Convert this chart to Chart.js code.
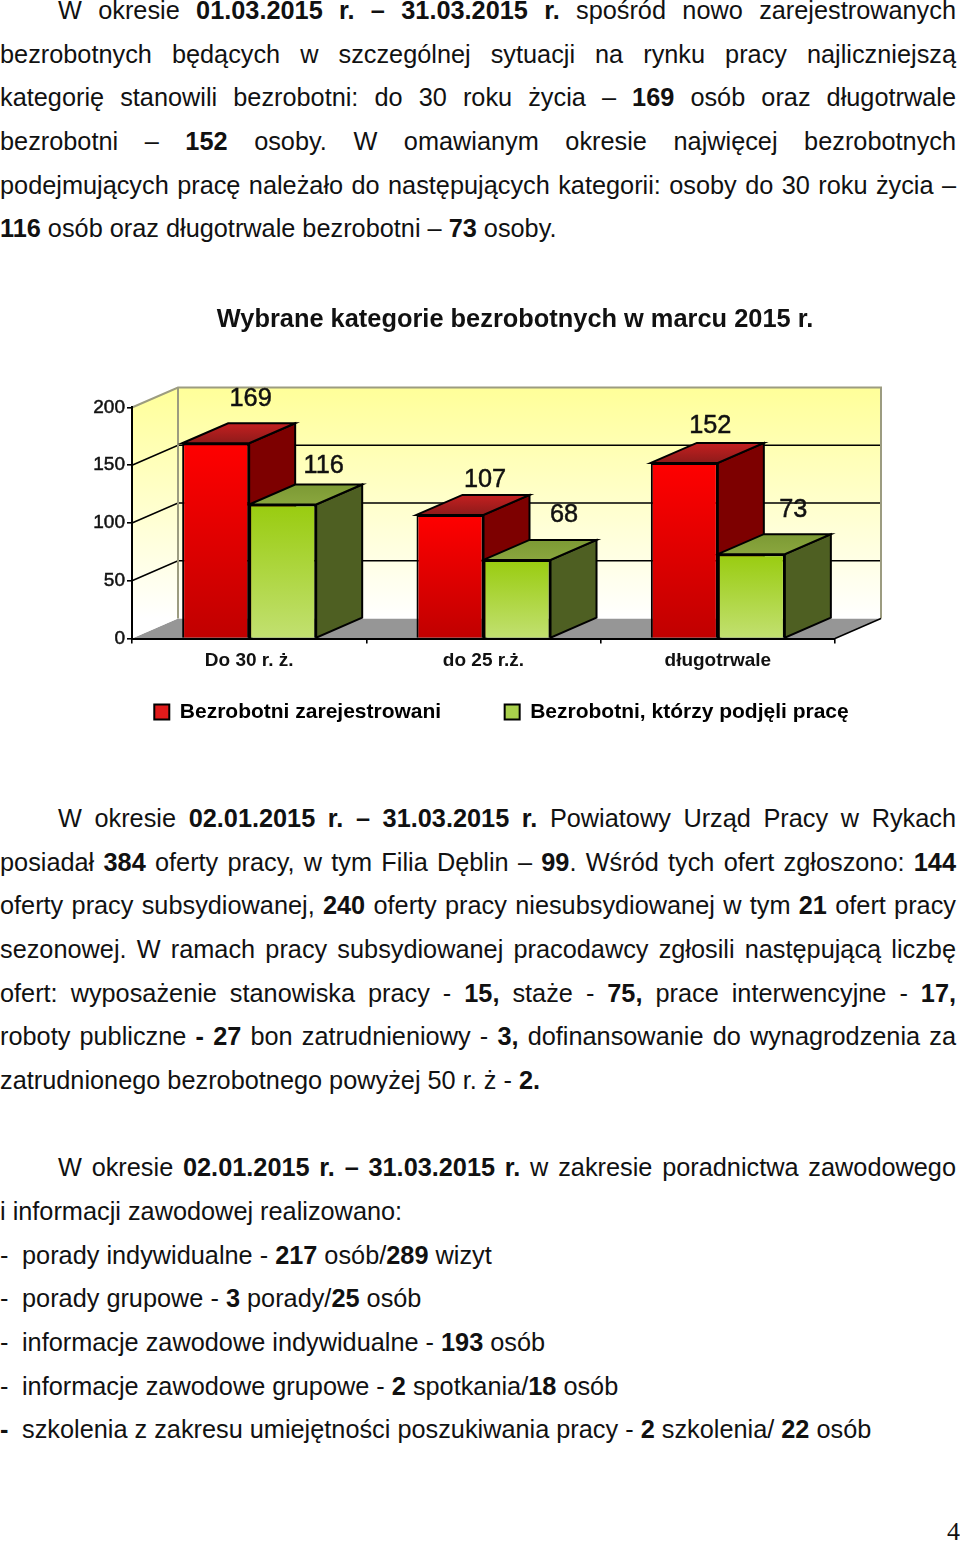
<!DOCTYPE html>
<html lang="pl">
<head>
<meta charset="utf-8">
<title>Wybrane kategorie bezrobotnych w marcu 2015 r.</title>
<script src="https://cdn.jsdelivr.net/npm/chart.js@4/dist/chart.umd.min.js"></script>
<style>
    html, body { margin: 0; padding: 0; background: #fff; }
    body { position: relative; width: 960px; height: 1543px; overflow: hidden; color: #111; font-family: "Liberation Sans", Arial, sans-serif; font-size: 25.3px; }
    .l { position: absolute; left: 0; width: 956px; height: 30px; line-height: 30px; white-space: nowrap; z-index: 2; }
    .i { left: 58px; width: 898px; }
    .j { white-space: normal; text-align: justify; text-align-last: justify; }
    .d { display: inline-block; width: 22px; }
    #wrap { position: absolute; left: 0; top: 290px; width: 960px; height: 479px; z-index: 1; }
    #pg { position: absolute; left: 947px; top: 1517px; font-family: "Liberation Serif", serif; font-size: 26px; line-height: 30px; }
</style>
</head>
<body>
<div class="l i j" style="top:-5px">W okresie <b>01.03.2015 r. – 31.03.2015 r.</b> spośród nowo zarejestrowanych</div>
<div class="l j" style="top:39px">bezrobotnych będących w szczególnej sytuacji na rynku pracy najliczniejszą</div>
<div class="l j" style="top:82px">kategorię stanowili bezrobotni: do 30 roku życia – <b>169</b> osób oraz długotrwale</div>
<div class="l j" style="top:126px">bezrobotni – <b>152</b> osoby. W omawianym okresie najwięcej bezrobotnych</div>
<div class="l j" style="top:170px">podejmujących pracę należało do następujących kategorii: osoby do 30 roku życia –</div>
<div class="l" style="top:213px"><b>116</b> osób oraz długotrwale bezrobotni – <b>73</b> osoby.</div>

<div id="wrap"><canvas id="chart"></canvas></div>

<div class="l i j" style="top:803px">W okresie <b>02.01.2015 r. – 31.03.2015 r.</b> Powiatowy Urząd Pracy w Rykach</div>
<div class="l j" style="top:847px">posiadał <b>384</b> oferty pracy, w tym Filia Dęblin – <b>99</b>. Wśród tych ofert zgłoszono: <b>144</b></div>
<div class="l j" style="top:890px">oferty pracy subsydiowanej, <b>240</b> oferty pracy niesubsydiowanej w tym <b>21</b> ofert pracy</div>
<div class="l j" style="top:934px">sezonowej. W ramach pracy subsydiowanej pracodawcy zgłosili następującą liczbę</div>
<div class="l j" style="top:978px">ofert: wyposażenie stanowiska pracy - <b>15,</b> staże - <b>75,</b> prace interwencyjne - <b>17,</b></div>
<div class="l j" style="top:1021px">roboty publiczne <b>- 27</b> bon zatrudnieniowy - <b>3,</b> dofinansowanie do wynagrodzenia za</div>
<div class="l" style="top:1065px">zatrudnionego bezrobotnego powyżej 50 r. ż - <b>2.</b></div>

<div class="l i j" style="top:1152px">W okresie <b>02.01.2015 r. – 31.03.2015 r.</b> w zakresie poradnictwa zawodowego</div>
<div class="l" style="top:1196px">i informacji zawodowej realizowano:</div>
<div class="l" style="top:1240px"><span class="d">-</span>porady indywidualne - <b>217</b> osób/<b>289</b> wizyt</div>
<div class="l" style="top:1283px"><span class="d">-</span>porady grupowe - <b>3</b> porady/<b>25</b> osób</div>
<div class="l" style="top:1327px"><span class="d">-</span>informacje zawodowe indywidualne - <b>193</b> osób</div>
<div class="l" style="top:1371px"><span class="d">-</span>informacje zawodowe grupowe - <b>2</b> spotkania/<b>18</b> osób</div>
<div class="l" style="top:1414px"><span class="d"><b>-</b></span>szkolenia z zakresu umiejętności poszukiwania pracy - <b>2</b> szkolenia/ <b>22</b> osób</div>
<div id="pg">4</div>

<script>
const categories = ['Do 30 r. ż.', 'do 25 r.ż.', 'długotrwale'];
const registered = [169, 107, 152];
const hired = [116, 68, 73];
const yTicks = [0, 50, 100, 150, 200];
const seriesNames = ['Bezrobotni zarejestrowani', 'Bezrobotni, którzy podjęli pracę'];

// przesunięcia etykiet względem górnej ściany słupka, ręcznie jak w oryginale
const labelNudge = [
    [[12, -24], [12, -15], [3, -17]],
    [[18, -18], [24, -25], [19, -24]],
];

const depthX = 46;
const depthY = 20;
const faces = [
    { top: '#8e1a1a', topBack: '#c42020', side: '#7d0000', hi: '#ff0000', lo: '#c00000', legend: '#e01b1b' },
    { top: '#8aa63e', topBack: '#7c9a34', side: '#4e5f22', hi: '#99cc0f', lo: '#c2e071', legend: '#a9d04c' },
];

function poly(ctx, pts, fill, stroke, width) {
    ctx.beginPath();
    pts.forEach((p, i) => (i ? ctx.lineTo(p[0], p[1]) : ctx.moveTo(p[0], p[1])));
    ctx.closePath();
    if (fill) { ctx.fillStyle = fill; ctx.fill(); }
    if (stroke) { ctx.strokeStyle = stroke; ctx.lineWidth = width || 2; ctx.stroke(); }
}

const box3d = {
    id: 'box3d',
    afterLayout(chart) {
        // tytuł i legenda nie są wyśrodkowane względem obszaru wykresu
        chart.titleBlock.left += 97.5;
        chart.titleBlock.right += 97.5;
        chart.legend.left += 84;
        chart.legend.right += 84;
        chart.legend.top = 348;
    },
    beforeDraw(chart) {
        const { ctx, chartArea: a, scales: { y } } = chart;
        const l = a.left, r = a.right, t = a.top, b = a.bottom;
        const edge = '#9c9c80';
        const wall = ctx.createLinearGradient(0, t - depthY, 0, b - depthY);
        wall.addColorStop(0, '#ffff99');
        wall.addColorStop(1, '#ffffff');
        ctx.save();
        poly(ctx, [[l, b], [l + depthX, b - depthY], [r + depthX, b - depthY], [r, b]], '#969696');
        poly(ctx, [[l, t], [l + depthX, t - depthY], [l + depthX, b - depthY], [l, b]], wall);
        poly(ctx, [[l + depthX, t - depthY], [r + depthX, t - depthY], [r + depthX, b - depthY], [l + depthX, b - depthY]], wall);

        ctx.strokeStyle = '#000';
        ctx.lineWidth = 1.6;
        yTicks.slice(1, -1).forEach((v) => {
            const py = y.getPixelForValue(v);
            ctx.beginPath();
            ctx.moveTo(l, py);
            ctx.lineTo(l + depthX, py - depthY);
            ctx.lineTo(r + depthX, py - depthY);
            ctx.stroke();
        });

        ctx.strokeStyle = edge;
        ctx.lineWidth = 2;
        ctx.beginPath();
        ctx.moveTo(l, t);
        ctx.lineTo(l + depthX, t - depthY);
        ctx.lineTo(r + depthX, t - depthY);
        ctx.lineTo(r + depthX, b - depthY);
        ctx.moveTo(l + depthX, t - depthY);
        ctx.lineTo(l + depthX, b - depthY);
        ctx.stroke();

        ctx.strokeStyle = '#000';
        ctx.lineWidth = 1.4;
        ctx.beginPath();
        ctx.moveTo(r, b);
        ctx.lineTo(r + depthX, b - depthY);
        ctx.stroke();
        ctx.restore();
    },
    // ściany boczne i górne rysowane przed przodami słupków: najpierw czerwone, potem zielone
    beforeDatasetsDraw(chart) {
        const { ctx } = chart;
        ctx.save();
        chart.data.datasets.forEach((ds, d) => {
            const face = faces[d];
            chart.getDatasetMeta(d).data.forEach((bar) => {
                const x0 = bar.x - bar.width / 2;
                const x1 = bar.x + bar.width / 2;
                const topFill = ctx.createLinearGradient(0, bar.y, 0, bar.y - depthY);
                topFill.addColorStop(0, face.top);
                topFill.addColorStop(1, face.topBack);
                poly(ctx, [[x1, bar.y], [x1 + depthX, bar.y - depthY], [x1 + depthX, bar.base - depthY], [x1, bar.base]], face.side, '#000');
                poly(ctx, [[x0, bar.y], [x0 + depthX, bar.y - depthY], [x1 + depthX, bar.y - depthY], [x1, bar.y]], topFill, '#000');
            });
        });
        ctx.restore();
    },
    afterDatasetsDraw(chart) {
        const { ctx } = chart;
        ctx.save();
        ctx.fillStyle = '#111';
        ctx.strokeStyle = '#111';
        ctx.lineWidth = 0.5;
        ctx.font = '25.3px "Liberation Sans"';
        ctx.textAlign = 'center';
        ctx.textBaseline = 'middle';
        chart.data.datasets.forEach((ds, d) => {
            chart.getDatasetMeta(d).data.forEach((bar, i) => {
                const tx = bar.x + depthX / 2 + labelNudge[d][i][0];
                const ty = bar.y - depthY + labelNudge[d][i][1];
                ctx.fillText(String(ds.data[i]), tx, ty);
                ctx.strokeText(String(ds.data[i]), tx, ty);
            });
        });
        ctx.restore();
    },
};

function frontFill(d) {
    return (c) => {
        const chart = c.chart;
        if (!chart.chartArea || c.raw === undefined) return faces[d].hi;
        const g = chart.ctx.createLinearGradient(0, chart.scales.y.getPixelForValue(c.raw), 0, chart.scales.y.getPixelForValue(0));
        g.addColorStop(0, faces[d].hi);
        g.addColorStop(1, faces[d].lo);
        return g;
    };
}

new Chart(document.getElementById('chart'), {
    type: 'bar',
    data: {
        labels: categories,
        datasets: [
            { label: seriesNames[0], data: registered, backgroundColor: frontFill(0), borderColor: '#000', borderWidth: 2 },
            { label: seriesNames[1], data: hired, backgroundColor: frontFill(1), borderColor: '#000', borderWidth: 2 },
        ],
    },
    options: {
        responsive: true,
        maintainAspectRatio: false,
        animation: false,
        events: [],
        categoryPercentage: 0.572,
        barPercentage: 1,
        layout: { autoPadding: false, padding: { right: 125 } },
        scales: {
            x: {
                afterFit: (s) => { s.height = 36; },
                grid: { drawOnChartArea: false, color: '#000', lineWidth: 1.6, tickLength: 5 },
                border: { color: '#000', width: 2 },
                ticks: { color: '#111', font: { family: 'Liberation Sans', size: 19, weight: 'bold' }, padding: 6, maxRotation: 0 },
            },
            y: {
                min: 0,
                max: 200,
                afterFit: (s) => { s.width = 132; },
                afterBuildTicks: (s) => { s.ticks = yTicks.map((value) => ({ value })); },
                grid: { drawOnChartArea: false, color: '#000', lineWidth: 1.6, tickLength: 5 },
                border: { color: '#000', width: 2 },
                ticks: { color: '#111', textStrokeColor: '#111', textStrokeWidth: 0.5, font: { family: 'Liberation Sans', size: 19 }, padding: 2 },
            },
        },
        plugins: {
            tooltip: { enabled: false },
            title: {
                display: true,
                text: 'Wybrane kategorie bezrobotnych w marcu 2015 r.',
                color: '#111',
                font: { family: 'Liberation Sans', size: 25.4, weight: 'bold' },
                padding: { top: 15, bottom: 72 },
            },
            legend: {
                position: 'bottom',
                labels: {
                    boxWidth: 15,
                    boxHeight: 15,
                    padding: 63.5,
                    color: '#111',
                    font: { family: 'Liberation Sans', size: 21, weight: 'bold' },
                    generateLabels: () => seriesNames.map((text, i) => ({
                        text, fillStyle: faces[i].legend, strokeStyle: '#000', lineWidth: 2, datasetIndex: i,
                    })),
                },
            },
        },
    },
    plugins: [box3d],
});
</script>
</body>
</html>
